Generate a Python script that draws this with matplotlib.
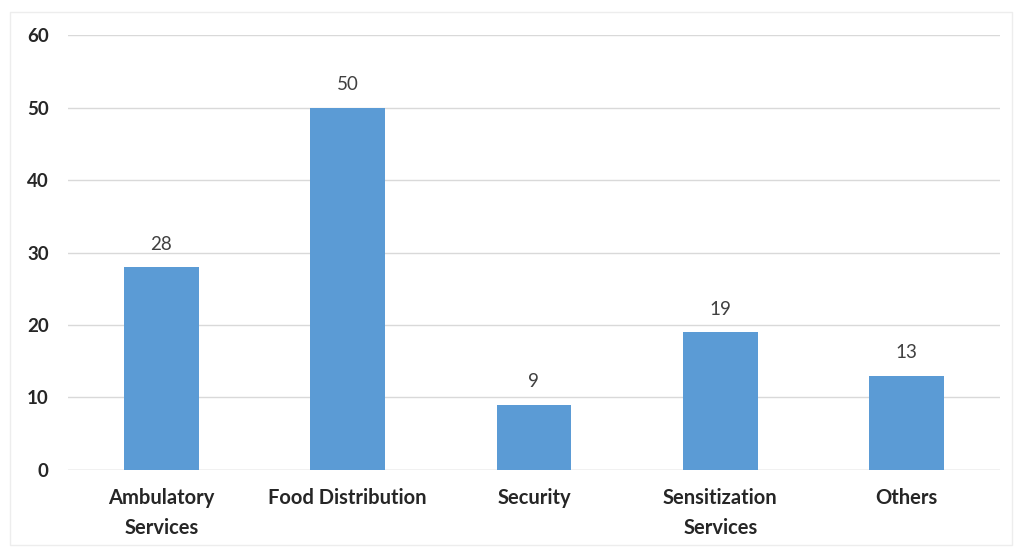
import matplotlib.pyplot as plt
from matplotlib.patches import Rectangle
import numpy as np

# data
categories = ['Ambulatory\nServices', 'Food Distribution', 'Security',
              'Sensitization\nServices', 'Others']
values = [28, 50, 9, 19, 13]
y_ticks = [0, 10, 20, 30, 40, 50, 60]

plt.rcParams['font.family'] = ['Lato', 'DejaVu Sans']

fig = plt.figure(figsize=(10.17, 5.49), dpi=100)
ax = fig.add_axes([0.067, 0.144, 0.916, 0.792])

x = np.arange(len(categories))
bars = ax.bar(x, values, width=0.4, color='#5B9BD5', zorder=3)

# value labels above bars
for b, v in zip(bars, values):
    ax.text(b.get_x() + b.get_width() / 2, v + 2.0, str(v),
            ha='center', va='bottom', fontsize=13.5, color='#404040')

ax.set_xlim(-0.5, len(categories) - 0.5)
ax.set_ylim(0, 60)
ax.set_yticks(y_ticks)
ax.set_xticks(x)
ax.set_xticklabels(categories, fontsize=14.5, fontweight='bold', color='#262626',
                   linespacing=1.6)
ax.tick_params(axis='y', labelsize=13.5, labelcolor='#262626', length=0, pad=14)
ax.tick_params(axis='x', length=0, pad=13)
for lbl in ax.get_yticklabels():
    lbl.set_fontweight('bold')

ax.grid(axis='y', color='#D9D9D9', linewidth=1, zorder=0)
for s in ax.spines.values():
    s.set_visible(False)
ax.axhline(0, color='#D9D9D9', linewidth=1, zorder=2)

# faint chart border
fig.patches.append(Rectangle((0.01, 0.008), 0.985, 0.97, transform=fig.transFigure,
                             fill=False, edgecolor='#EDEDED', linewidth=1))

fig.savefig('out.png', dpi=100)
